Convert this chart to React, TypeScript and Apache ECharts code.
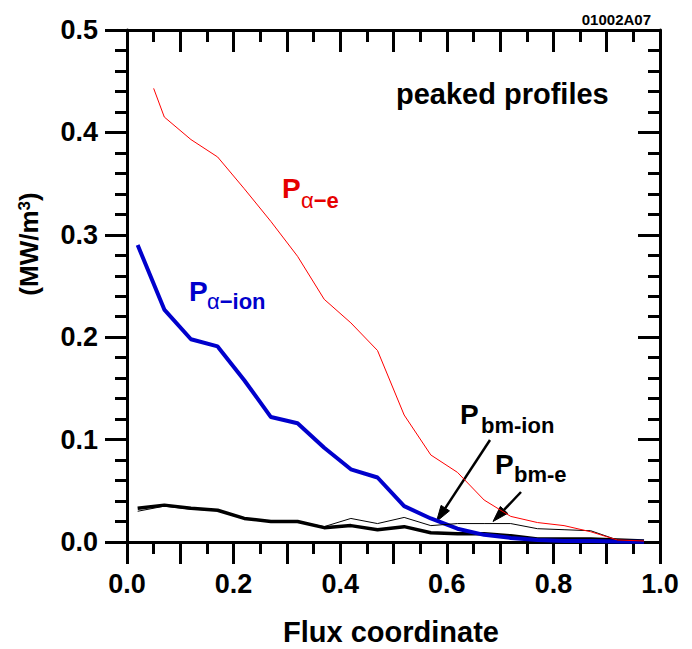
import React, { useEffect, useRef } from "react";
import * as echarts from "echarts";

// Flux coordinate sample points
const flux = [0.02, 0.07, 0.12, 0.17, 0.22, 0.27, 0.32, 0.37, 0.42, 0.47, 0.52, 0.57, 0.62, 0.67, 0.72, 0.77, 0.82, 0.87, 0.92, 0.97];
// P_alpha-e is drawn starting at 0.05
const fluxAlphaE = [0.05, 0.07, 0.12, 0.17, 0.22, 0.27, 0.32, 0.37, 0.42, 0.47, 0.52, 0.57, 0.62, 0.67, 0.72, 0.77, 0.82, 0.87, 0.92, 0.97];

const pAlphaE = [0.443, 0.415, 0.393, 0.376, 0.345, 0.313, 0.279, 0.237, 0.214, 0.187, 0.124, 0.085, 0.068, 0.041, 0.025, 0.019, 0.016, 0.010, 0.002, 0.001];
const pAlphaIon = [0.290, 0.227, 0.198, 0.191, 0.158, 0.122, 0.116, 0.092, 0.071, 0.063, 0.035, 0.023, 0.013, 0.007, 0.004, 0.002, 0.001, 0.001, 0.0005, 0.0003];
const pBmIon = [0.033, 0.036, 0.033, 0.031, 0.023, 0.020, 0.020, 0.014, 0.016, 0.012, 0.015, 0.009, 0.008, 0.008, 0.006, 0.003, 0.003, 0.003, 0.002, 0.001];
const pBmE = [0.030, 0.035, 0.032, 0.031, 0.023, 0.020, 0.020, 0.015, 0.023, 0.018, 0.024, 0.016, 0.018, 0.018, 0.018, 0.013, 0.012, 0.011, 0.002, 0.001];

const yTicks = [0, 0.1, 0.2, 0.3, 0.4, 0.5];

const FONT = "'Liberation Sans', Arial, Helvetica, sans-serif";
const RED = "#ff0000";
const RED_TXT = "#e60000";
const BLUE = "#0000cc";

const zip = (xs: number[], ys: number[]) => xs.map((x, i) => [x, ys[i]]);

function arrow(x1: number, y1: number, x2: number, y2: number) {
  const dx = x2 - x1;
  const dy = y2 - y1;
  const len = Math.sqrt(dx * dx + dy * dy);
  const ux = dx / len;
  const uy = dy / len;
  const hl = 16;
  const hw = 5;
  const bx = x2 - ux * hl;
  const by = y2 - uy * hl;
  return [
    {
      type: "line",
      shape: { x1, y1, x2: bx, y2: by },
      style: { stroke: "#000", lineWidth: 2.5 },
    },
    {
      type: "polygon",
      shape: {
        points: [
          [x2, y2],
          [bx - uy * hw, by + ux * hw],
          [bx + uy * hw, by - ux * hw],
        ],
      },
      style: { fill: "#000", stroke: "#000", lineWidth: 1 },
    },
  ];
}

function textEl(text: string, x: number, y: number, size: number, color: string, extra: any = {}) {
  return {
    type: "text",
    x,
    y,
    style: {
      text,
      fill: color,
      font: `bold ${size}px ${FONT}`,
      align: "left",
      verticalAlign: "middle",
      ...extra,
    },
  };
}

function subEl(main: string, x: number, y: number, size: number, color: string, alpha: boolean) {
  if (!alpha) return textEl(main, x, y, size, color);
  return {
    type: "text",
    x,
    y,
    style: {
      text: `{a|α}{b|${main}}`,
      align: "left",
      verticalAlign: "middle",
      rich: {
        a: { fill: color, fontSize: size, fontFamily: FONT, fontWeight: "normal" },
        b: { fill: color, fontSize: size, fontFamily: FONT, fontWeight: "bold" },
      },
    },
  };
}

export default function App() {
  const ref = useRef<HTMLDivElement>(null);
  useEffect(() => {
    if (!ref.current) return;
    const chart = echarts.init(ref.current, null, { renderer: "svg" });
    const axisCommon = {
      type: "value",
      axisLine: { show: true, onZero: false, lineStyle: { color: "#000", width: 3 } },
      splitLine: { show: false },
      minorSplitLine: { show: false },
    };
    const labelStyle = { color: "#000", fontSize: 27, fontWeight: "bold", fontFamily: FONT };
    chart.setOption({
      animation: false,
      backgroundColor: "#fff",
      grid: { left: 127, top: 30, right: 32, bottom: 107, containLabel: false },
      xAxis: [
        {
          ...axisCommon,
          position: "bottom",
          min: 0,
          max: 1,
          interval: 0.1,
          axisTick: { show: true, length: 22, lineStyle: { color: "#000", width: 3 } },
          minorTick: { show: true, splitNumber: 2, length: 12, lineStyle: { color: "#000", width: 3 } },
          axisLabel: {
            ...labelStyle,
            margin: 28,
            formatter: (v: number) => (Math.round(v * 10) % 2 === 0 ? v.toFixed(1) : ""),
          },
        },
        {
          ...axisCommon,
          position: "top",
          min: 0,
          max: 1,
          interval: 0.1,
          axisTick: { show: true, inside: true, length: 22, lineStyle: { color: "#000", width: 3 } },
          minorTick: { show: true, splitNumber: 2, length: 12, lineStyle: { color: "#000", width: 3 } },
          axisLabel: { show: false },
        },
      ],
      yAxis: [
        {
          ...axisCommon,
          position: "left",
          min: yTicks[0],
          max: yTicks[yTicks.length - 1],
          interval: 0.1,
          axisTick: { show: true, length: 22, lineStyle: { color: "#000", width: 3 } },
          minorTick: { show: true, splitNumber: 5, length: 12, lineStyle: { color: "#000", width: 3 } },
          axisLabel: { ...labelStyle, margin: 29, formatter: (v: number) => v.toFixed(1) },
        },
        {
          ...axisCommon,
          position: "right",
          min: yTicks[0],
          max: yTicks[yTicks.length - 1],
          interval: 0.1,
          axisTick: { show: true, inside: true, length: 22, lineStyle: { color: "#000", width: 3 } },
          minorTick: { show: true, splitNumber: 5, length: 12, lineStyle: { color: "#000", width: 3 } },
          axisLabel: { show: false },
        },
      ],
      series: [
        {
          name: "P bm-ion",
          type: "line",
          symbol: "none",
          data: zip(flux, pBmIon),
          lineStyle: { color: "#000", width: 3.5 },
          z: 2,
        },
        {
          name: "P bm-e",
          type: "line",
          symbol: "none",
          data: zip(flux, pBmE),
          lineStyle: { color: "#000", width: 1 },
          z: 3,
        },
        {
          name: "P alpha-ion",
          type: "line",
          symbol: "none",
          data: zip(flux, pAlphaIon),
          lineStyle: { color: BLUE, width: 4 },
          z: 2,
        },
        {
          name: "P alpha-e",
          type: "line",
          symbol: "none",
          data: zip(fluxAlphaE, pAlphaE),
          lineStyle: { color: RED, width: 1 },
          z: 4,
        },
      ],
      graphic: [
        textEl("01002A07", 651, 19, 15, "#000", { align: "right" }),
        textEl("peaked profiles", 396, 94, 29, "#000"),
        textEl("Flux coordinate", 391, 632, 29, "#000", { align: "center" }),
        {
          type: "text",
          x: 28.5,
          y: 244,
          rotation: Math.PI / 2,
          style: {
            text: "{a|(MW/m}{b|3}{a|)}",
            align: "center",
            verticalAlign: "middle",
            rich: {
              a: { fill: "#000", fontSize: 26, fontFamily: FONT, fontWeight: "bold", verticalAlign: "bottom" },
              b: { fill: "#000", fontSize: 17, fontFamily: FONT, fontWeight: "bold", verticalAlign: "top" },
            },
          },
        },
        textEl("P", 282, 188.5, 28, RED_TXT),
        subEl("−e", 301, 200, 22, RED_TXT, true),
        textEl("P", 189, 291, 28, BLUE),
        subEl("−ion", 207, 301.5, 22, BLUE, true),
        textEl("P", 460, 414.5, 28, "#000"),
        subEl("bm-ion", 481, 425, 22, "#000", false),
        textEl("P", 495, 464, 28, "#000"),
        subEl("bm-e", 514, 474.5, 22, "#000", false),
        ...arrow(490, 440, 436.5, 521.5),
        ...arrow(521, 492, 493, 521.5),
      ],
    });
    return () => chart.dispose();
  }, []);
  return <div ref={ref} style={{ width: 692, height: 649, position: "absolute", left: 0, top: 0 }} />;
}
